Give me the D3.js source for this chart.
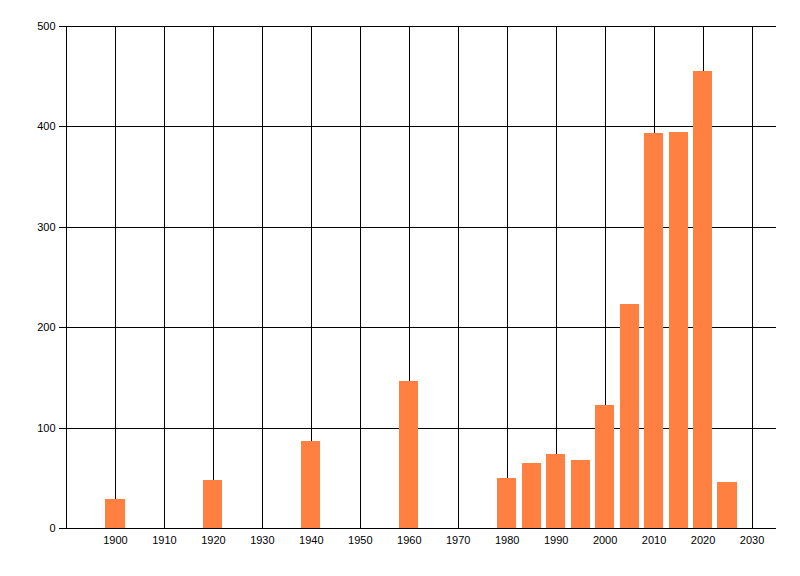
<!DOCTYPE html>
<html>
<head>
<meta charset="utf-8">
<script src="https://cdn.jsdelivr.net/npm/d3@7"></script>
<style>
    body { margin: 0; background: #fff; }
    svg text { font-family: "Liberation Sans", Arial, sans-serif; font-size: 11px; fill: #000; }
</style>
</head>
<body>
<svg id="chart"></svg>
<script>
// years (bar centres) and their counts
const years = [1900, 1920, 1940, 1960, 1980, 1985, 1990, 1995, 2000, 2005, 2010, 2015, 2020, 2025];
const counts = [29, 48, 87, 146, 50, 65, 74, 68, 123, 223, 393, 394, 455, 46];

const xTicks = [1900, 1910, 1920, 1930, 1940, 1950, 1960, 1970, 1980, 1990, 2000, 2010, 2020, 2030];
const yTicks = [0, 100, 200, 300, 400, 500];

const width = 800;
const height = 576;
const margin = ({top: 26, right: 24, bottom: 48, left: 66});
const barYears = 3.9; // bar width, in years

const svg = d3.select('#chart')
    .attr('width', width)
    .attr('height', height);

const xScale = d3.scaleLinear()
    .domain([1890, 2035])
    .range([margin.left, width - margin.right]);

const yScale = d3.scaleLinear()
    .domain([0, 500])
    .range([height - margin.bottom, margin.top]);

const data = years.map((y, i) => ({year: y, count: counts[i]}));

// grid
const grid = svg.append('g')
    .attr('stroke', '#000')
    .attr('stroke-width', 1)
    .attr('shape-rendering', 'crispEdges');

grid.selectAll('line.vgrid')
    .data(xTicks)
    .join('line')
    .attr('class', 'vgrid')
    .attr('x1', d => Math.round(xScale(d)) + 0.5)
    .attr('x2', d => Math.round(xScale(d)) + 0.5)
    .attr('y1', yScale(0))
    .attr('y2', yScale(500));

grid.selectAll('line.hgrid')
    .data(yTicks.filter(d => d > 0))
    .join('line')
    .attr('class', 'hgrid')
    .attr('x1', margin.left)
    .attr('x2', width - margin.right)
    .attr('y1', d => Math.round(yScale(d)) + 0.5)
    .attr('y2', d => Math.round(yScale(d)) + 0.5);

// bars
svg.append('g')
    .attr('fill', '#ff8040')
    .selectAll('rect')
    .data(data)
    .join('rect')
    .attr('x', d => xScale(d.year - barYears / 2))
    .attr('width', d => xScale(d.year + barYears / 2) - xScale(d.year - barYears / 2))
    .attr('y', d => yScale(d.count))
    .attr('height', d => yScale(0) - yScale(d.count))
    .attr('shape-rendering', 'crispEdges');

// axes
const xAxis = g => g
    .attr('transform', `translate(0, ${Math.round(yScale(0)) + 0.5})`)
    .call(d3.axisBottom(xScale).tickValues(xTicks).tickFormat(d3.format('d')).tickSize(0).tickPadding(8))
    .call(g => g.select('.domain').attr('d', `M${margin.left},0H${width - margin.right}`));

const yAxis = g => g
    .attr('transform', `translate(${Math.round(margin.left) + 0.5}, 0)`)
    .call(d3.axisLeft(yScale).tickValues(yTicks).tickSize(8).tickPadding(3))
    .call(g => g.select('.domain').attr('d', `M0,${yScale(0)}V${yScale(500)}`));

svg.append('g').call(xAxis);
svg.append('g').call(yAxis);

svg.selectAll('.domain, .tick line')
    .attr('stroke', '#000')
    .attr('shape-rendering', 'crispEdges');
svg.selectAll('.tick text')
    .attr('font-family', null)
    .attr('font-size', null);
</script>
</body>
</html>
